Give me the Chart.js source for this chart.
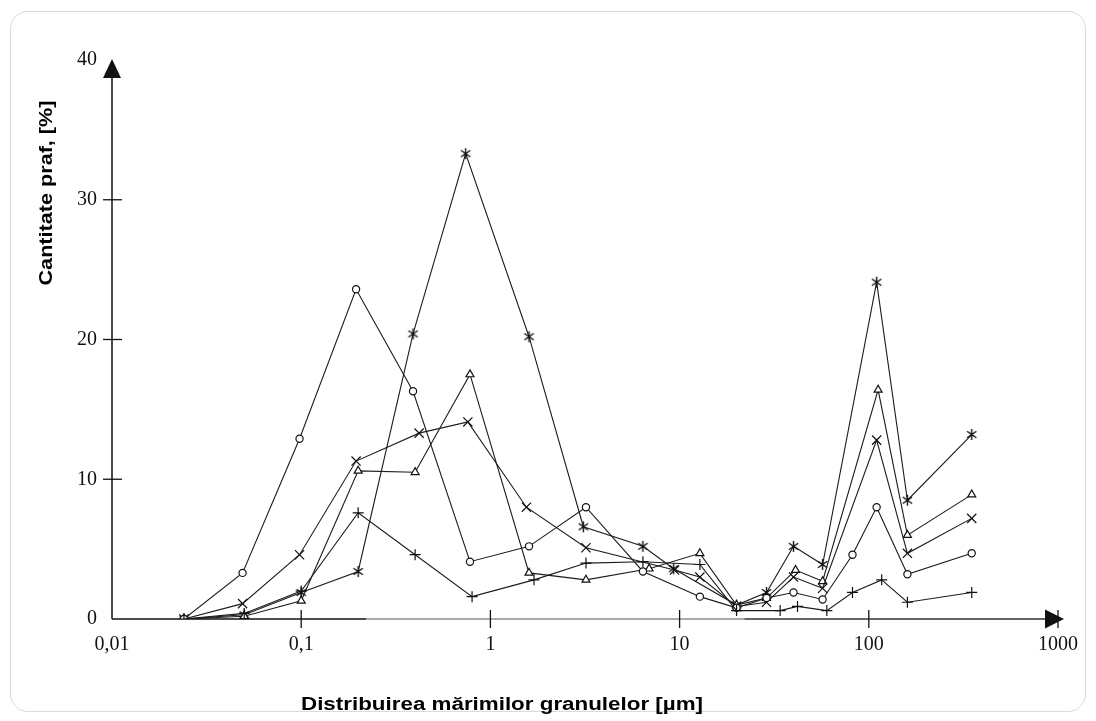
<!DOCTYPE html>
<html>
<head>
<meta charset="utf-8">
<script src="https://cdn.jsdelivr.net/npm/chart.js@4.4.0/dist/chart.umd.min.js"></script>
<style>
  html, body { margin: 0; padding: 0; background: #fff; overflow: hidden; }
  .card { position: absolute; left: 10px; top: 11px; width: 1076px; height: 701px; border: 1px solid #dadada; border-radius: 18px; box-sizing: border-box; }
  .wrap { position: absolute; left: 0; top: 0; width: 1096px; height: 721px; }
</style>
</head>
<body>
<div class="card"></div>
<div class="wrap"><canvas id="chart"></canvas></div>
<script>
// particle size [um] and dust amount [%] for each curve
const circleX = [0.024, 0.049, 0.098, 0.195, 0.39, 0.78, 1.6, 3.2, 6.4, 12.8, 20, 28.8, 40, 57, 82, 110, 160, 350];
const circleY = [0, 3.3, 12.9, 23.6, 16.3, 4.1, 5.2, 8.0, 3.4, 1.6, 0.8, 1.5, 1.9, 1.4, 4.6, 8.0, 3.2, 4.7];

const triangleX = [0.024, 0.05, 0.1, 0.2, 0.4, 0.78, 1.6, 3.2, 6.9, 12.8, 20, 28.8, 41, 57, 112, 160, 350];
const triangleY = [0, 0.2, 1.3, 10.6, 10.5, 17.5, 3.3, 2.8, 3.6, 4.7, 1.0, 1.5, 3.5, 2.7, 16.4, 6.0, 8.9];

const crossX = [0.024, 0.049, 0.098, 0.195, 0.42, 0.76, 1.55, 3.2, 9.4, 12.8, 20, 28.8, 40, 57, 110, 160, 350];
const crossY = [0, 1.1, 4.6, 11.3, 13.3, 14.1, 8.0, 5.1, 3.5, 3.0, 0.9, 1.2, 3.0, 2.2, 12.8, 4.7, 7.2];

const starX = [0.024, 0.05, 0.1, 0.2, 0.39, 0.74, 1.6, 3.1, 6.4, 9.3, 20, 28.8, 40, 57, 110, 160, 350];
const starY = [0, 0.3, 1.9, 3.4, 20.4, 33.3, 20.2, 6.6, 5.2, 3.6, 1.0, 1.9, 5.2, 3.9, 24.1, 8.5, 13.2];

const plusX = [0.024, 0.05, 0.1, 0.2, 0.4, 0.8, 1.7, 3.2, 6.4, 12.8, 20, 34, 42, 60, 82, 117, 160, 350];
const plusY = [0, 0.4, 2.0, 7.6, 4.6, 1.6, 2.8, 4.0, 4.1, 3.9, 0.6, 0.6, 0.9, 0.6, 1.9, 2.8, 1.2, 1.9];

const xTicks = [0.01, 0.1, 1, 10, 100, 1000];
const xTickLabels = ['0,01', '0,1', '1', '10', '100', '1000'];
const yTicks = [0, 10, 20, 30, 40];

const xTitle = 'Distribuirea mărimilor granulelor [µm]';
const yTitle = 'Cantitate praf, [%]';

// six-armed asterisk like the scanned marker
const asterisk = size => {
    const c = document.createElement('canvas');
    c.width = c.height = size;
    const g = c.getContext('2d');
    const m = size / 2, r = size / 2 - 1;
    g.strokeStyle = '#111';
    g.lineWidth = 1.4;
    g.beginPath();
    g.moveTo(m, m - r); g.lineTo(m, m + r);
    g.moveTo(m - r * 0.85, m - r * 0.6); g.lineTo(m + r * 0.85, m + r * 0.6);
    g.moveTo(m - r * 0.85, m + r * 0.6); g.lineTo(m + r * 0.85, m - r * 0.6);
    g.stroke();
    return c;
};

const series = (xs, ys, style, radius) => ({
    data: xs.map((x, i) => ({ x: x, y: ys[i] })),
    showLine: true,
    borderColor: '#1c1c1c',
    borderWidth: 1.1,
    tension: 0,
    pointStyle: style,
    pointRadius: radius,
    pointBorderColor: '#111',
    pointBackgroundColor: '#fff',
    pointBorderWidth: 1.2
});

const stretchText = (ctx, text, cx, cy, width, rot) => {
    ctx.save();
    ctx.translate(cx, cy);
    ctx.rotate(rot);
    const w = ctx.measureText(text).width;
    ctx.scale(width / w, 1);
    ctx.textAlign = 'center';
    ctx.textBaseline = 'middle';
    ctx.fillText(text, 0, 0);
    ctx.restore();
};

// axis lines with arrows, crossing tick marks and axis titles
const axisDecor = {
    id: 'axisDecor',
    beforeDatasetsDraw(chart) {
        const { ctx, scales: { x, y } } = chart;
        const ax = x.getPixelForValue(0.01);
        const ay = y.getPixelForValue(0);
        const yTop = y.getPixelForValue(40);
        const xEnd = x.getPixelForValue(1000);
        ctx.save();
        ctx.lineWidth = 1.5;

        // x axis, darker and lighter stretches like the scan
        const seg = (v1, v2, col) => {
            ctx.strokeStyle = col;
            ctx.beginPath();
            ctx.moveTo(x.getPixelForValue(v1), ay);
            ctx.lineTo(x.getPixelForValue(v2), ay);
            ctx.stroke();
        };
        seg(0.01, 0.22, '#111');
        seg(0.22, 22, '#8c8c8c');
        seg(22, 1000, '#333');

        ctx.strokeStyle = '#111';
        ctx.fillStyle = '#111';
        ctx.beginPath();
        ctx.moveTo(ax, ay);
        ctx.lineTo(ax, yTop + 12);
        ctx.stroke();

        ctx.beginPath();
        ctx.moveTo(ax, yTop - 1);
        ctx.lineTo(ax - 9, yTop + 18);
        ctx.lineTo(ax + 9, yTop + 18);
        ctx.closePath();
        ctx.fill();

        ctx.beginPath();
        ctx.moveTo(xEnd + 6, ay);
        ctx.lineTo(xEnd - 13, ay - 9.5);
        ctx.lineTo(xEnd - 13, ay + 9.5);
        ctx.closePath();
        ctx.fill();

        ctx.lineWidth = 1.3;
        yTicks.slice(1, 4).forEach(v => {
            const py = y.getPixelForValue(v);
            ctx.beginPath();
            ctx.moveTo(ax - 9, py);
            ctx.lineTo(ax + 10, py);
            ctx.stroke();
        });
        xTicks.slice(1).forEach(v => {
            const px = x.getPixelForValue(v);
            ctx.beginPath();
            ctx.moveTo(px, ay - 9);
            ctx.lineTo(px, ay + 9);
            ctx.stroke();
        });

        ctx.fillStyle = '#000';
        ctx.font = 'bold 18px "Liberation Sans", Arial, sans-serif';
        stretchText(ctx, yTitle, 47, 193, 185, -Math.PI / 2);
        stretchText(ctx, xTitle, 502, 705, 402, 0);
        ctx.restore();
    }
};

const ctx = document.getElementById('chart').getContext('2d');
let myChart = new Chart(ctx, {
    type: 'scatter',
    data: {
        datasets: [
            series(plusX, plusY, 'cross', 5.5),
            series(circleX, circleY, 'circle', 3.6),
            series(crossX, crossY, 'crossRot', 6.5),
            series(triangleX, triangleY, 'triangle', 4.6),
            series(starX, starY, asterisk(13), 6)
        ]
    },
    options: {
        responsive: true,
        maintainAspectRatio: false,
        animation: false,
        layout: { padding: { left: 0, right: 38, top: 60, bottom: 0 } },
        plugins: { legend: { display: false }, tooltip: { enabled: false } },
        scales: {
            x: {
                type: 'logarithmic',
                min: 0.01,
                max: 1000,
                afterBuildTicks: s => { s.ticks = xTicks.map(v => ({ value: v })); },
                afterFit: s => { s.height = 102; },
                grid: { display: false, drawTicks: false },
                border: { display: false },
                ticks: {
                    autoSkip: false,
                    maxRotation: 0,
                    padding: 14,
                    color: '#111',
                    font: { family: '"Liberation Serif", "Times New Roman", serif', size: 20 },
                    callback: (v, i) => xTickLabels[i]
                }
            },
            y: {
                min: 0,
                max: 40,
                afterBuildTicks: s => { s.ticks = yTicks.map(v => ({ value: v })); },
                afterFit: s => { s.width = 112; },
                grid: { display: false, drawTicks: false },
                border: { display: false },
                ticks: {
                    padding: 15,
                    color: '#111',
                    font: { family: '"Liberation Serif", "Times New Roman", serif', size: 20 }
                }
            }
        }
    },
    plugins: [axisDecor]
});
</script>
</body>
</html>
